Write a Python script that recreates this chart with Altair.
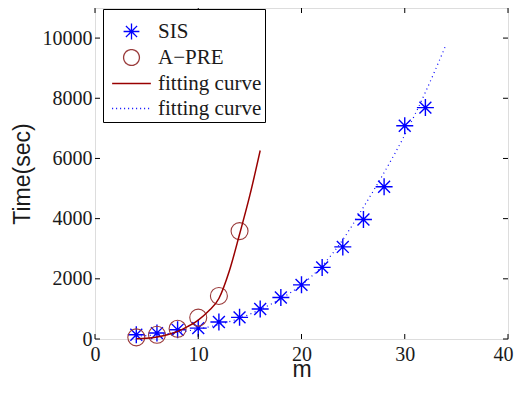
import altair as alt
import pandas as pd

# ---- data ----
m_sis = [4, 6, 8, 10, 12, 14, 16, 18, 20, 22, 24, 26, 28, 30, 32]
t_sis = [140, 197, 305, 360, 565, 720, 995, 1380, 1800, 2380, 3060, 3970, 5060, 7085, 7690]

m_apre = [4, 6, 8, 10, 12, 14]
t_apre = [55, 140, 340, 711, 1430, 3585]

m_fit_apre = [4, 5, 6, 7, 8, 9, 10, 11, 12, 13, 14, 15, 16]
t_fit_apre = [10, 25, 65, 140, 250, 420, 630, 930, 1345, 2250, 3480, 4780, 6265]

m_fit_sis = [4, 6, 8, 10, 12, 14, 16, 18, 20, 22, 24, 26, 28, 30, 32, 34]
t_fit_sis = [90, 140, 220, 330, 480, 690, 980, 1340, 1800, 2430, 3300, 4380, 5530, 6780, 8200, 9780]

x_ticks = [0, 10, 20, 30, 40]
y_ticks = [0, 2000, 4000, 6000, 8000, 10000]

series = ["SIS", "A\u2212PRE", "fit1", "fit2"]

W, H = 413, 331
BLUE = "#0000ff"
BROWN = "#9a3b3b"
DARKRED = "#990000"
STAR = "M-1,0L1,0M0,-1L0,1M-0.7,-0.7L0.7,0.7M-0.7,0.7L0.7,-0.7"
LINE = "M-2.45,0L2.45,0"

xscale = alt.Scale(domain=[0, 40], nice=False, zero=False)
yscale = alt.Scale(domain=[0, 11000], nice=False, zero=False)

df_sis = pd.DataFrame({"m": m_sis, "t": t_sis})
df_apre = pd.DataFrame({"m": m_apre, "t": t_apre})
df_fa = pd.DataFrame({"m": m_fit_apre, "t": t_fit_apre})
df_fs = pd.DataFrame({"m": m_fit_sis, "t": t_fit_sis})
df_xt = pd.DataFrame({"v": x_ticks})
df_yt = pd.DataFrame({"v": y_ticks})
df_leg = pd.DataFrame({"s": series, "m": [None] * 4, "t": [None] * 4})

X = alt.X("m:Q", scale=xscale,
          axis=alt.Axis(values=x_ticks, format="d", title="m", ticks=False, domain=False, grid=False,
                        labelFlush=True, labelFlushOffset=5,
                        labelFont="Liberation Serif", labelFontSize=20, labelColor="#1a1a1a",
                        labelPadding=5, titleFont="Liberation Sans", titleFontSize=23,
                        titleFontWeight="normal", titleColor="#1a1a1a", titlePadding=-6))
Y = alt.Y("t:Q", scale=yscale,
          axis=alt.Axis(values=y_ticks, format="d", title="Time(sec)", ticks=False, domain=False, grid=False,
                        labelFont="Liberation Serif", labelFontSize=20, labelColor="#1a1a1a",
                        labelPadding=3, titleFont="Liberation Sans", titleFontSize=23,
                        titleFontWeight="normal", titleColor="#1a1a1a", titlePadding=8))

pts_sis = alt.Chart(df_sis).mark_point(shape=STAR, filled=False, color=BLUE, size=289,
                                       strokeWidth=1.4, opacity=1).encode(x=X, y=Y)
pts_apre = alt.Chart(df_apre).mark_point(shape="circle", filled=False, color=BROWN, size=289,
                                         strokeWidth=1.1, opacity=1).encode(x="m:Q", y="t:Q")
fit_apre = alt.Chart(df_fa).mark_line(color=DARKRED, strokeWidth=1.5, interpolate="monotone").encode(
    x="m:Q", y="t:Q")
fit_sis = alt.Chart(df_fs).mark_line(color=BLUE, strokeWidth=1.2, strokeDash=[1, 3.5],
                                     interpolate="monotone").encode(x="m:Q", y="t:Q")

legend_layer = alt.Chart(df_leg).mark_point(filled=False, size=250, opacity=1, strokeWidth=1.3).encode(
    x="m:Q", y="t:Q",
    color=alt.Color("s:N", scale=alt.Scale(domain=series, range=[BLUE, BROWN, DARKRED, BLUE]),
                    legend=alt.Legend(
                        title=" ", titleFontSize=7, titlePadding=2,
                        orient="none", legendX=8, legendY=1,
                        labelExpr="datum.label == 'fit1' || datum.label == 'fit2' ? 'fitting curve' : datum.label",
                        labelFont="Liberation Serif", labelFontSize=21, labelColor="#1a1a1a",
                        symbolSize=250, symbolOffset=15, labelOffset=16, rowPadding=3, padding=3,
                        strokeColor="black", fillColor="white", symbolStrokeWidth=1.3,
                        cornerRadius=0)),
    shape=alt.Shape("s:N", scale=alt.Scale(domain=series, range=[STAR, "circle", LINE, LINE])),
    strokeDash=alt.StrokeDash("s:N", scale=alt.Scale(domain=series,
                                                     range=[[1, 0], [1, 0], [1, 0], [1, 3]])),
)

tick_b = alt.Chart(df_xt).mark_rule(color="black", strokeWidth=1).encode(
    x=alt.X("v:Q", scale=xscale), y=alt.value(H), y2=alt.value(H - 5))
tick_t = alt.Chart(df_xt).mark_rule(color="black", strokeWidth=1).encode(
    x=alt.X("v:Q", scale=xscale), y=alt.value(0), y2=alt.value(5))
tick_l = alt.Chart(df_yt).mark_rule(color="black", strokeWidth=1).encode(
    y=alt.Y("v:Q", scale=yscale), x=alt.value(0), x2=alt.value(5))
tick_r = alt.Chart(df_yt).mark_rule(color="black", strokeWidth=1).encode(
    y=alt.Y("v:Q", scale=yscale), x=alt.value(W), x2=alt.value(W - 5))

chart = alt.layer(pts_sis, pts_apre, fit_apre, fit_sis, legend_layer,
                  tick_b, tick_t, tick_l, tick_r).properties(
    width=W, height=H,
    autosize=alt.AutoSizeParams(type="none"),
    padding={"left": 87, "top": 0, "right": 6, "bottom": 41},
).configure_view(stroke="black", strokeWidth=1.2).configure(background="white")

chart.save("out.html", embed_options={"renderer": "svg", "actions": False})
